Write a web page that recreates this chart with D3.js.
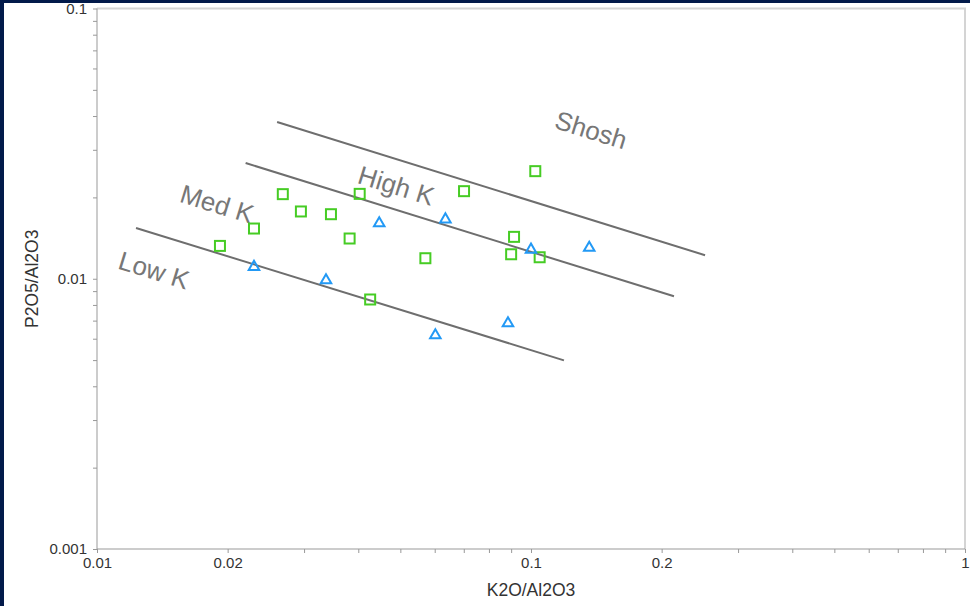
<html>
<script src="https://d3js.org/d3.v7.min.js"></script>
<style>
    body { margin: 0; background: #021a4a; }
    svg { display: block; }
    .axis path, .axis line { stroke: #999; }
    .axis text { font-family: "Liberation Sans", Arial, sans-serif; font-size: 15px; fill: #333; }
    .title { font-family: "Liberation Sans", Arial, sans-serif; font-size: 17.5px; fill: #333; text-anchor: middle; }
    .divider { fill: none; stroke: #6e6e6e; stroke-width: 2px; }
    .field { font-family: "Liberation Sans", Arial, sans-serif; font-size: 26px; fill: #777; text-anchor: middle; dominant-baseline: central; }
    .sq { fill: none; stroke: #46cc24; stroke-width: 2px; }
    .tri { fill: none; stroke: #2299f5; stroke-width: 2px; }
</style>
<svg width=970 height=606></svg>
<script>
    // K2O/Al2O3 vs P2O5/Al2O3, two sample groups
    let squareK = [0.0192, 0.0230, 0.0268, 0.0295, 0.0346, 0.0382, 0.0403, 0.0426, 0.0571, 0.0701, 0.1023, 0.0914, 0.0900, 0.1047];
    let squareP = [0.01323, 0.01534, 0.02056, 0.01774, 0.01733, 0.01409, 0.02061, 0.00838, 0.01191, 0.02109, 0.02501, 0.01429, 0.01232, 0.01201];
    let triK = [0.0230, 0.0337, 0.0447, 0.0635, 0.0602, 0.0885, 0.1000, 0.1362];
    let triP = [0.01106, 0.00987, 0.01605, 0.01658, 0.00618, 0.00684, 0.01281, 0.01302];

    // series boundaries: [k start, p start, k end, p end]
    let dividers = [
        [0.0123, 0.01542, 0.1191, 0.00499],
        [0.0220, 0.0268, 0.2135, 0.00861],
        [0.0260, 0.0380, 0.2518, 0.01222]
    ];

    let fieldNames = ['Low K', 'Med K', 'High K', 'Shosh'];
    let fieldK = [0.01353, 0.0189, 0.0489, 0.1375];
    let fieldP = [0.01075, 0.0189, 0.0221, 0.0355];

    let xLabels = [0.01, 0.02, 0.1, 0.2, 1];
    let yLabels = [0.001, 0.01, 0.1];

    let svg = d3.select('svg'),
        margin = { top: 8.5, right: 5, bottom: 57, left: 97 },
        width = +svg.attr('width') - margin.left - margin.right,
        height = +svg.attr('height') - margin.top - margin.bottom;

    svg.append('rect')
        .attr('x', 4).attr('y', 3)
        .attr('width', 966).attr('height', 603)
        .attr('fill', 'white');

    let g = svg.append('g')
        .attr('transform', 'translate(' + margin.left + ',' + margin.top + ')');

    let x = d3.scaleLog().domain([0.01, 1]).range([0, width]);
    let y = d3.scaleLog().domain([0.001, 0.1]).range([height, 0]);

    let minor = (lo, hi) => {
        let out = [];
        for (let e = lo; e < hi; e++)
            for (let m = 1; m < 10; m++) out.push(+(m * Math.pow(10, e)).toPrecision(3));
        out.push(Math.pow(10, hi));
        return out;
    };
    let fmt = d3.format('~g');

    // frame
    g.append('path')
        .attr('d', 'M0,0H' + width + 'V' + height)
        .attr('fill', 'none')
        .attr('stroke', '#d4d4d4')
        .attr('stroke-width', 2);

    g.append('g')
        .attr('class', 'axis')
        .attr('transform', 'translate(0,' + height + ')')
        .call(d3.axisBottom(x).tickValues(minor(-2, 0)).tickSize(4).tickPadding(4)
            .tickFormat(d => xLabels.some(v => Math.abs(v - d) < 1e-9) ? fmt(d) : ''))
        .call(a => a.select('.domain').attr('d', 'M0,0H' + width));

    g.append('g')
        .attr('class', 'axis')
        .call(d3.axisLeft(y).tickValues(minor(-3, -1)).tickSize(4).tickPadding(6)
            .tickFormat(d => yLabels.some(v => Math.abs(v - d) < 1e-9) ? fmt(d) : ''))
        .call(a => a.select('.domain').attr('d', 'M0,0V' + height));

    svg.append('text').attr('class', 'title')
        .attr('x', margin.left + width / 2).attr('y', 596)
        .text('K2O/Al2O3');

    svg.append('text').attr('class', 'title')
        .attr('transform', 'translate(38,' + (margin.top + height / 2) + ') rotate(-90)')
        .text('P2O5/Al2O3');

    g.selectAll('.divider')
        .data(dividers)
        .enter().append('line')
        .attr('class', 'divider')
        .attr('x1', d => x(d[0])).attr('y1', d => y(d[1]))
        .attr('x2', d => x(d[2])).attr('y2', d => y(d[3]));

    let angle = Math.atan2(y(dividers[0][3]) - y(dividers[0][1]), x(dividers[0][2]) - x(dividers[0][0])) * 180 / Math.PI;

    g.selectAll('.field')
        .data(fieldNames)
        .enter().append('text')
        .attr('class', 'field')
        .attr('transform', (d, i) => 'translate(' + x(fieldK[i]) + ',' + y(fieldP[i]) + ') rotate(' + angle + ')')
        .text(d => d);

    let sqSize = 10;
    g.selectAll('.sq')
        .data(squareK)
        .enter().append('rect')
        .attr('class', 'sq')
        .attr('x', d => x(d) - sqSize / 2)
        .attr('y', (d, i) => y(squareP[i]) - sqSize / 2)
        .attr('width', sqSize).attr('height', sqSize);

    let tri = d3.symbol().type(d3.symbolTriangle).size(48);
    g.selectAll('.tri')
        .data(triK)
        .enter().append('path')
        .attr('class', 'tri')
        .attr('transform', (d, i) => 'translate(' + x(d) + ',' + y(triP[i]) + ')')
        .attr('d', tri);
</script>
</html>
